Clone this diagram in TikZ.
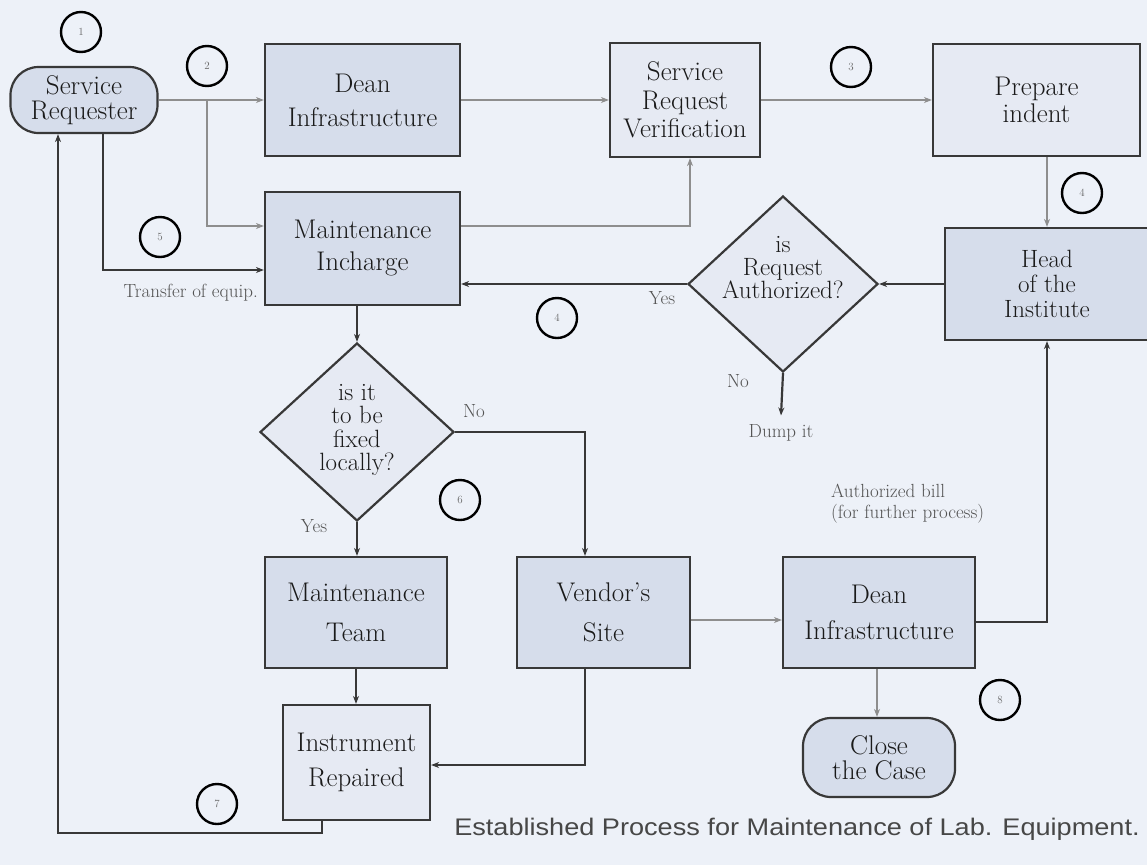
\documentclass[tikz,border=0pt]{standalone}
\usepackage{fontspec}
\usepackage{graphicx}
\newfontfamily\capfont{Liberation Sans}
\usetikzlibrary{arrows.meta,shapes.geometric}
\definecolor{bgc}{HTML}{EDF1F8}
\definecolor{boxA}{HTML}{D6DDEB}
\definecolor{boxB}{HTML}{E6EAF3}
\definecolor{lineD}{HTML}{383838}
\definecolor{lineG}{HTML}{8E8E8E}
\definecolor{txt}{HTML}{1A1A1A}
\newcommand\nf[1]{\fontsize{27}{#1}\selectfont}
\newcommand\df[1]{\fontsize{25}{#1}\selectfont}
\begin{document}
\begin{tikzpicture}[x=1pt,y=-1pt,
  box/.style={draw=lineD, line width=2.2pt, fill=boxA, inner sep=0pt, align=center, text=txt, font=\nf{30}},
  lbox/.style={box, fill=boxB},
  term/.style={box, fill=boxA, rounded corners=28pt},
  dia/.style={diamond, draw=lineD, line width=2.2pt, fill=boxB, inner sep=0pt},
  diatext/.style={align=center, text=txt, inner sep=0pt},
  small/.style={text=txt!75, inner sep=1pt, font=\fontsize{19}{21}\selectfont},
  num/.style={circle, draw=black, line width=2.4pt, minimum size=40pt, inner sep=0pt, text=black!60, font=\fontsize{11}{11}\selectfont},
  ga/.style={draw=lineG, line width=1.8pt, -{Stealth[length=8pt,width=6pt]}},
  da/.style={draw=lineD, line width=2.2pt, -{Stealth[length=8pt,width=6pt]}}
]
\fill[bgc] (0,0) rectangle (1147,865);
\useasboundingbox (0,0) rectangle (1147,865);

% nodes
\node[term, minimum width=147pt, minimum height=66pt, font=\nf{25}] (sr) at (84,100) {Service\\Requester};
\node[box, minimum width=195pt, minimum height=112pt, font=\nf{34}] (dean) at (362.5,100) {Dean\\Infrastructure};
\node[lbox, minimum width=150pt, minimum height=114pt, font=\nf{28.5}] (srv) at (685,100) {Service\\Request\\Verification};
\node[lbox, minimum width=207pt, minimum height=112pt, font=\nf{27}] (prep) at (1036.5,100) {Prepare\\indent};
\node[box, minimum width=204pt, minimum height=112pt, font=\df{25}] (head) at (1047,284) {Head\\of the\\Institute};
\node[box, minimum width=195pt, minimum height=113pt, font=\nf{32}] (mi) at (362.5,248.5) {Maintenance\\Incharge};
\node[dia, minimum width=190pt, minimum height=176pt] (dia1) at (783,284) {};
\node[diatext, font=\df{22.5}] (dia1t) at (783,268) {is\\Request\\Authorized?};
\node[dia, minimum width=194pt, minimum height=178pt] (dia2) at (357,432) {};
\node[diatext, font=\df{23.5}] (dia2t) at (357,430) {is it\\to be\\fixed\\locally?};
\node[box, minimum width=182pt, minimum height=111pt, font=\nf{40}] (mt) at (356,612.5) {Maintenance\\Team};
\node[box, minimum width=173pt, minimum height=111pt, font=\nf{40}] (vs) at (603.5,612.5) {Vendor's\\Site};
\node[box, minimum width=192pt, minimum height=111pt, font=\nf{36}] (dean2) at (879,612.5) {Dean\\Infrastructure};
\node[term, minimum width=152pt, minimum height=79pt, font=\nf{25}] (close) at (879,757.5) {Close\\the Case};
\node[lbox, minimum width=147pt, minimum height=115pt, font=\nf{35}] (ir) at (356.5,762.5) {Instrument\\Repaired};

% labels
\node[small, anchor=east] (transfer) at (259,293) {Transfer of equip.};
\node[small] (yes1) at (662,298) {Yes};
\node[small] (no1) at (738,381) {No};
\node[small] (dump) at (781,433) {Dump it};
\node[small] (no2) at (474,411) {No};
\node[small] (yes2) at (314,526) {Yes};
\node[small, anchor=west, align=left] (auth) at (830,504) {Authorized bill\\(for further process)};

% numbered circles
\node[num] (n1) at (81,32) {1};
\node[num] (n2) at (207,66) {2};
\node[num] (n3) at (851,67) {3};
\node[num] (n4) at (1082,193) {4};
\node[num] (n5) at (160,237) {5};
\node[num] (n4b) at (557,318) {4};
\node[num] (n6) at (460,500) {6};
\node[num] (n7) at (217,804) {7};
\node[num] (n8) at (1000,700) {8};

% caption
\node[font=\capfont\fontsize{24}{24}\selectfont, text=black!72, inner sep=0pt] (cap) at (797,829) {\scalebox{1.13}[1]{Established Process for Maintenance of Lab. Equipment.}};

% connectors
\coordinate (br) at (207,100);
\draw[ga] (sr.east) -- (dean.west);
\draw[ga] (br) |- ([yshift=22.5pt]mi.west);
\draw[da] ([xshift=19pt]sr.south) |- ([yshift=-21.5pt]mi.west);
\draw[ga] ([yshift=22.5pt]mi.east) -| ([xshift=5pt]srv.south);
\draw[ga] (dean.east) -- (srv.west);
\draw[ga] (srv.east) -- (prep.west);
\draw[ga] (prep.south -| head.north) -- (head.north);
\draw[da] (head.west) -- (dia1.east);
\draw[da] (dia1.west) -- (dia1.west -| mi.east);
\draw[da] (dia1.south) -- ([yshift=8pt]dump.north);
\draw[da] (mi.south -| dia2.north) -- (dia2.north);
\draw[da] (dia2.east) -| ([xshift=-18.5pt]vs.north);
\draw[da] (dia2.south) -- (dia2.south |- mt.north);
\draw[ga] ([yshift=-7.5pt]vs.east) -- ([yshift=-7.5pt]vs.east -| dean2.west);
\draw[da] ([yshift=-9.5pt]dean2.east) -| (head.south);
\draw[ga] ([xshift=-2pt]dean2.south) -- ([xshift=-2pt]close.north);
\draw[da] (mt.south) -- (mt.south |- ir.north);
\draw[da] ([xshift=-18.5pt]vs.south) |- ([yshift=-2.5pt]ir.east);
\draw[da] ([xshift=-34.5pt]ir.south) -- ++(0,12) -| ([xshift=-26pt]sr.south);
\end{tikzpicture}
\end{document}
